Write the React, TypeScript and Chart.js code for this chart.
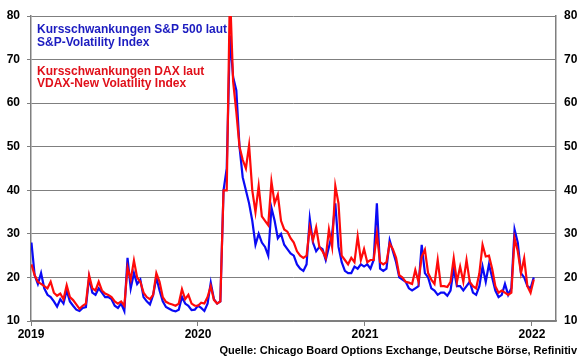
import React, { useEffect, useRef } from "react";
import { Chart, registerables } from "chart.js";

Chart.register(...registerables);

// Weekly observations starting Wed 2019-01-02
const START_YEAR = 2019;
const START_MONTH = 0;
const START_DAY = 2;

const vixValues = [
  28, 20.5, 18.5, 21, 17.5, 16, 15.5, 14.5, 13.3, 15,
  14, 17, 14.5, 13.5, 12.6, 12.3, 13, 13.2, 20, 16.5,
  16, 17.5, 16.5, 15.5, 15.5, 15, 13.5, 13, 14, 12.3,
  24.5, 17.5, 21, 18.5, 19.5, 15.5, 14.5, 13.8, 16, 20,
  17, 14.5, 13.2, 12.8, 12.4, 12.2, 12.6, 15.5, 14, 13.5,
  12.5, 12.6, 13.5, 13, 12.3, 14, 18.8, 15, 14, 14.5,
  40, 45, 75.5, 66, 63, 50, 43, 40, 37, 33,
  27.5, 30, 28, 27, 25, 36, 33, 29, 30, 27.5,
  26.5, 25.5, 25, 23, 22, 21.5, 23, 33.5, 28, 26,
  27, 26.5, 24, 27, 30, 37, 27, 23.5, 21.5, 21,
  21, 22.5, 22, 23, 22.5, 23, 22, 24, 37, 22,
  21.5, 22, 28.5, 26, 23.5, 20, 19.5, 19, 17.5, 17,
  17.5, 18, 27.5, 21, 20, 17.5, 17, 16, 16.5, 16.5,
  15.8, 17, 22, 18, 18, 17, 18, 19, 16.5, 16,
  18, 22.5, 19, 23, 20, 17, 15.5, 16, 18.5, 16,
  17.5, 31, 28, 21, 20, 18, 17.5, 20,
];

const vdaxValues = [
  23, 20.5, 19, 18.5, 18, 17.5, 19, 16.5, 15.8, 16.3,
  15, 18.2, 15.5, 14.8, 13.8, 12.8, 13.5, 14, 20.5, 17.5,
  17, 19, 17, 16.3, 16, 15.5, 14.5, 14, 14.5, 13.5,
  22.3, 19.5, 23.9, 20, 19, 16.5, 15.5, 15, 16, 21,
  19, 15.5, 14.4, 14, 13.8, 13.5, 14, 17.3, 15, 16,
  14, 13.5, 13.5, 14.2, 14, 15.5, 18, 14.8, 14, 14.5,
  40, 40, 86, 65, 58, 50, 47, 45, 50.3, 40,
  35, 41, 34, 33, 32, 42, 37, 39, 33, 31,
  30.5, 29, 28, 26, 25, 24.5, 25, 31.5, 28.5, 31.5,
  27, 26, 24.5, 31, 27, 41, 37, 25, 24, 23,
  24.5, 23.5, 29.4, 24, 26.5, 23.5, 24, 24, 30, 23.5,
  23, 23.5, 27.8, 26.5, 24.5, 20.5, 20, 19, 18.8, 18.5,
  21.7, 19, 24.8, 26.4, 21, 19.5, 18.5, 24, 18, 18,
  17.8, 19, 24.4, 19, 22.5, 19, 24, 19, 18, 17.5,
  20.9, 27.5, 24.8, 25, 22, 18, 16.5, 17, 16.5, 16,
  16.5, 29, 26, 21, 24.4, 18, 16.5, 19.5,
];

const yearTicks = [2019, 2020, 2021, 2022];
const X_MIN = 2019;
const X_MAX = 2022.144;
const Y_MIN = 10;
const Y_MAX = 80;
const Y_STEP = 10;

const legendBlue = ["Kursschwankungen S&P 500 laut", "S&P-Volatility Index"];
const legendRed = ["Kursschwankungen DAX laut", "VDAX-New Volatility Index"];
const sourceText = "Quelle: Chicago Board Options Exchange, Deutsche Börse, Refinitiv";

const BLUE = "#0a0af5";
const RED = "#ff0a0a";
const BLUE_TEXT = "#1c1cc0";
const RED_TEXT = "#e0101a";
const GRID = "#7f7f7f";
const FONT_FAMILY = '"Liberation Sans", Arial, sans-serif';

function yearFraction(i: number): number {
  const d = Date.UTC(START_YEAR, START_MONTH, START_DAY + 7 * i);
  const y = new Date(d).getUTCFullYear();
  const a = Date.UTC(y, 0, 1);
  const b = Date.UTC(y + 1, 0, 1);
  return y + (d - a) / (b - a);
}

const textPlugin = {
  id: "texts",
  afterDraw(chart: any) {
    const ctx = chart.ctx;
    ctx.save();
    ctx.textAlign = "left";
    ctx.textBaseline = "alphabetic";
    ctx.font = `bold 12px ${FONT_FAMILY}`;
    ctx.fillStyle = BLUE_TEXT;
    ctx.fillText(legendBlue[0], 37, 33);
    ctx.fillText(legendBlue[1], 37, 45.5);
    ctx.fillStyle = RED_TEXT;
    ctx.fillText(legendRed[0], 37, 74.5);
    ctx.fillText(legendRed[1], 37, 86.5);
    ctx.font = `bold 11px ${FONT_FAMILY}`;
    ctx.fillStyle = "#000";
    ctx.textAlign = "right";
    ctx.fillText(sourceText, 577, 354, 370);
    ctx.restore();
  },
};

export default function App() {
  const ref = useRef<HTMLCanvasElement | null>(null);
  useEffect(() => {
    if (!ref.current) return;
    const blueData = vixValues.map((v, i) => ({ x: yearFraction(i), y: v }));
    const redData = vdaxValues.map((v, i) => ({ x: yearFraction(i), y: v }));
    const tickFont = { family: FONT_FAMILY, size: 12, weight: "bold" as const };
    const chart = new Chart(ref.current, {
      type: "line",
      data: {
        datasets: [
          {
            label: "VDAX",
            data: redData,
            borderColor: RED,
            borderWidth: 2.2,
            pointRadius: 0,
            tension: 0,
            order: 1,
          },
          {
            label: "VIX",
            data: blueData,
            borderColor: BLUE,
            borderWidth: 2.2,
            pointRadius: 0,
            tension: 0,
            order: 2,
          },
        ],
      },
      options: {
        animation: false,
        responsive: false,
        devicePixelRatio: 1,
        layout: { padding: { top: 16, left: 0, right: 0, bottom: 0 } },
        plugins: { legend: { display: false }, tooltip: { enabled: false } },
        scales: {
          x: {
            type: "linear",
            min: X_MIN,
            max: X_MAX,
            afterBuildTicks: (s: any) => {
              s.ticks = yearTicks.map((v) => ({ value: v }));
            },
            afterFit: (s: any) => {
              s.height = 38;
            },
            grid: {
              drawOnChartArea: false,
              drawTicks: true,
              tickLength: 5,
              color: GRID,
            },
            border: { color: GRID, width: 1.5 },
            ticks: {
              color: "#000",
              font: tickFont,
              padding: 1,
              maxRotation: 0,
              autoSkip: false,
              callback: (v: any) => String(v),
            },
          },
          y: {
            position: "left",
            min: Y_MIN,
            max: Y_MAX,
            afterFit: (s: any) => {
              s.width = 31;
            },
            grid: { color: GRID, lineWidth: 1, tickLength: 4 },
            border: { color: GRID, width: 1.5 },
            ticks: { stepSize: Y_STEP, color: "#000", font: tickFont, padding: 7 },
          },
          y2: {
            position: "right",
            min: Y_MIN,
            max: Y_MAX,
            afterFit: (s: any) => {
              s.width = 24;
            },
            grid: { drawOnChartArea: false, drawTicks: false },
            border: { color: GRID, width: 1.5 },
            ticks: { stepSize: Y_STEP, color: "#000", font: tickFont, padding: 8 },
          },
        },
      },
      plugins: [textPlugin],
    });
    return () => chart.destroy();
  }, []);
  return (
    <div style={{ position: "absolute", left: 0, top: 0, width: 580, height: 359, background: "#fff" }}>
      <canvas ref={ref} width={580} height={359} style={{ display: "block" }} />
    </div>
  );
}
